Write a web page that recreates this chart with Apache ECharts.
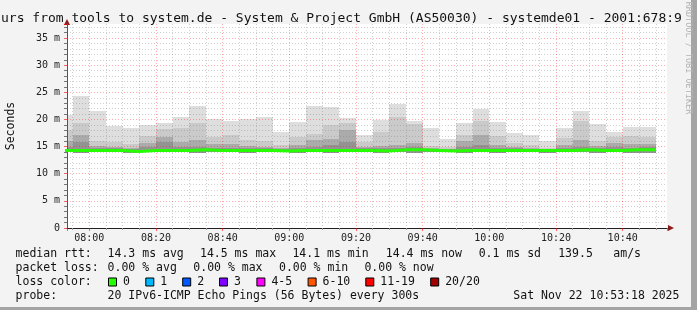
<!DOCTYPE html>
<html><head><meta charset="utf-8">
<script src="https://cdn.jsdelivr.net/npm/echarts@6/dist/echarts.min.js"></script>
<style>html,body{margin:0;padding:0;background:#f3f3f3}#c{width:697px;height:310px}</style>
</head><body><div id="c"></div>
<script>
// ---------- data ----------
const windowStart = '07:53:18';
const windowEnd = '10:53:18';
const stepMin = 5;
const slotEnd = ['07:55','08:00','08:05','08:10','08:15','08:20','08:25','08:30','08:35','08:40','08:45','08:50',
  '08:55','09:00','09:05','09:10','09:15','09:20','09:25','09:30','09:35','09:40','09:45','09:50',
  '09:55','10:00','10:05','10:10','10:15','10:20','10:25','10:30','10:35','10:40','10:45','10:50'];
const smokeMax = [20.8,24.4,21.5,18.8,18.4,19.0,19.3,20.4,22.5,20.0,19.8,20.1,
  20.5,17.7,19.6,22.5,22.3,20.2,17.1,19.9,22.9,19.7,18.4,16.4,
  19.3,21.9,19.5,17.6,17.2,16.0,18.4,21.5,19.2,17.7,18.6,18.6];
const smokeMid = [18.0,19.3,16.1,15.9,15.5,16.9,18.2,18.4,19.3,16.8,17.1,16.3,
  16.0,15.3,16.8,17.4,19.0,19.3,15.9,17.7,20.5,19.2,15.2,14.9,
  17.1,19.8,16.9,15.6,15.3,14.8,16.5,19.8,16.1,16.7,16.9,16.8];
const smokeDark = [16.0,17.1,15.2,15.0,14.8,15.7,16.7,15.9,16.3,15.4,15.5,15.2,
  15.0,14.8,15.3,16.2,16.4,18.0,15.0,15.2,15.3,15.6,14.8,14.6,
  16.0,17.1,15.3,15.0,14.8,14.5,15.3,16.3,15.2,15.6,15.4,15.5];
const smokeCore = [15.0,15.9,14.8,14.7,14.6,15.0,15.9,15.0,15.0,14.8,14.8,14.7,
  14.7,14.6,14.8,15.0,15.3,15.9,14.7,14.7,14.8,14.9,14.6,14.5,
  15.0,15.3,14.8,14.7,14.6,14.4,14.8,14.9,14.7,14.9,14.8,14.9];
const smokeMin = [14.0,13.9,14.0,14.0,13.8,14.0,14.0,14.0,13.9,14.0,14.0,13.9,
  14.0,14.0,13.9,14.0,13.9,14.0,14.0,13.9,14.0,13.8,14.0,14.0,
  13.9,14.0,13.9,14.0,14.0,13.9,14.0,14.0,13.9,14.0,13.9,13.8];
const medianRtt = [14.3,14.3,14.3,14.3,14.1,14.3,14.3,14.3,14.4,14.3,14.3,14.3,
  14.3,14.2,14.3,14.3,14.3,14.3,14.3,14.2,14.4,14.4,14.3,14.2,
  14.3,14.3,14.3,14.3,14.3,14.3,14.3,14.4,14.3,14.3,14.4,14.4];
const yTickLabels = ['0','5 m','10 m','15 m','20 m','25 m','30 m','35 m'];
const xTickLabels = ['08:00','08:20','08:40','09:00','09:20','09:40','10:00','10:20','10:40'];
const yMax = 37.6;

const titleText = 'urs from tools to system.de - System & Project GmbH (AS50030) - systemde01 - 2001:678:9';
const rttLegend = ['median rtt:','14.3 ms avg','14.5 ms max','14.1 ms min','14.4 ms now','0.1 ms sd','139.5','am/s'];
const lossLegend = ['packet loss:','0.00 % avg','0.00 % max','0.00 % min','0.00 % now'];
const lossColorLabels = ['0','1','2','3','4-5','6-10','11-19','20/20'];
const lossColorValues = ['#26ff00','#00b8ff','#0059ff','#7e00ff','#ff00ff','#ff5500','#ff0000','#a10000'];
const probeText = '20 IPv6-ICMP Echo Pings (56 Bytes) every 300s';
const dateText = 'Sat Nov 22 10:53:18 2025';

// ---------- helpers ----------
const toMin = s => { const p = s.split(':').map(Number); return p[0]*60 + p[1] + (p[2]||0)/60; };
const fmt = m => { const h = Math.floor(m/60), mm = Math.round(m - h*60); return String(h).padStart(2,'0')+':'+String(mm).padStart(2,'0'); };
const xMin = toMin(windowStart), xMax = toMin(windowEnd);
const smokeData = slotEnd.map((t,i)=>[toMin(t)-stepMin, toMin(t), smokeMin[i], smokeCore[i], smokeDark[i], smokeMid[i], smokeMax[i]]);
const medData = [[toMin(slotEnd[0])-stepMin, medianRtt[0]]].concat(slotEnd.map((t,i)=>[toMin(t), medianRtt[i]]));

const MONO = '"DejaVu Sans Mono", monospace';
const FONT = '11.5px ' + MONO;
const G = {left:67, right:30, top:24, bottom:82};

const graphics = [];
const txt = (text, x, y, extra) => graphics.push({type:'text', silent:true, style:Object.assign({text, x, y, font:FONT, fill:'#111', verticalAlign:'middle', align:'left'}, extra||{})});
// frame
graphics.push({type:'rect', shape:{x:691, y:0, width:6, height:310}, style:{fill:'#a4a4a4'}, silent:true});
graphics.push({type:'rect', shape:{x:0, y:307, width:697, height:3}, style:{fill:'#a4a4a4'}, silent:true});
// watermark
graphics.push({type:'text', x:688, y:58, rotation:-Math.PI/2, silent:true,
  style:{text:'RRDTOOL / TOBI OETIKER', x:0, y:0, align:'center', verticalAlign:'middle', font:'8.5px '+MONO, fill:'#b4b4b4'}});
// title
txt(titleText, 1, 19, {font:'13px '+MONO, fill:'#111'});
// legend rows
const rttX = [15.6,107.6,200,292.4,385.8,478.7,558.2,613.3];
rttLegend.forEach((r,i)=>txt(r, rttX[i], 254.5));
const lossX = [15.6,107.6,193.3,279,364.4];
lossLegend.forEach((r,i)=>txt(r, lossX[i], 268.5));
txt('loss color:', 15.6, 282.5);
const boxX = [108,145.3,182.2,219,256.4,307.6,365.3,430.2];
lossColorLabels.forEach((l,i)=>{
  graphics.push({type:'rect', silent:true, shape:{x:boxX[i]+0.5, y:278, width:8, height:8}, style:{fill:lossColorValues[i], stroke:'#000', lineWidth:1}});
  txt(l, boxX[i]+15, 282.5);
});
txt('probe:', 15.6, 296.5);
txt(probeText, 107.6, 296.5);
txt(dateText, 513.3, 296.5);
// axis arrows
graphics.push({type:'polygon', silent:true, shape:{points:[[64,25],[70,25],[67,19]]}, style:{fill:'#8e1b1b'}});
graphics.push({type:'polygon', silent:true, shape:{points:[[668,225],[668,231],[674,228]]}, style:{fill:'#8e1b1b'}});

const chart = echarts.init(document.getElementById('c'), null, {renderer:'canvas'});
chart.setOption({
  animation:false,
  backgroundColor:'#f3f3f3',
  grid:Object.assign({show:true, backgroundColor:'#ffffff', borderWidth:0, containLabel:false, outerBoundsMode:'none'}, G),
  xAxis:{
    type:'value', min:xMin, max:xMax, minInterval:20, maxInterval:20, z:3,
    axisLine:{show:true, lineStyle:{color:'#222', width:1}},
    axisTick:{show:true, length:3, lineStyle:{color:'rgba(255,0,0,0.6)'}},
    minorTick:{show:true, splitNumber:4, length:2, lineStyle:{color:'#999'}},
    axisLabel:{margin:5, color:'#222', fontFamily:'DejaVu Sans Mono', fontSize:10,
      formatter:v=>{ const s = fmt(v); return (Math.abs(v/20-Math.round(v/20))<1e-6 && xTickLabels.indexOf(s)>=0) ? s : ''; },
      showMinLabel:false, showMaxLabel:false},
    splitLine:{show:true, showMinLine:false, showMaxLine:false, lineStyle:{color:'rgba(255,0,0,0.32)', type:[1,2], width:1}},
    minorSplitLine:{show:true, lineStyle:{color:'rgba(120,120,120,0.35)', type:[1,2], width:1}}
  },
  yAxis:{
    type:'value', min:0, max:yMax, interval:5, z:3,
    name:'Seconds', nameLocation:'middle', nameRotate:90, nameGap:50,
    nameTextStyle:{fontFamily:'DejaVu Sans Mono', fontSize:11.5, color:'#111'},
    axisLine:{show:true, lineStyle:{color:'#555', width:1}},
    axisTick:{show:true, length:3, lineStyle:{color:'rgba(255,0,0,0.6)'}},
    minorTick:{show:true, splitNumber:5, length:3, lineStyle:{color:'#777'}},
    axisLabel:{margin:7, color:'#222', fontFamily:'DejaVu Sans Mono', fontSize:10,
      formatter:v=>{ const k = Math.round(v/5); return (Math.abs(v-k*5)<1e-6 && yTickLabels[k]!==undefined) ? yTickLabels[k] : ''; },
      showMaxLabel:false},
    splitLine:{show:true, showMinLine:false, showMaxLine:false, lineStyle:{color:'rgba(255,0,0,0.32)', type:[1,2], width:1}},
    minorSplitLine:{show:true, lineStyle:{color:'rgba(120,120,120,0.35)', type:[1,2], width:1}}
  },
  series:[
    {
      type:'custom', clip:true, z:2, silent:true,
      data:smokeData,
      encode:{x:[0,1], y:[2,3,4,5,6]},
      renderItem:(params, api)=>{
        const s = api.value(0), e = api.value(1), lo = api.value(2);
        const layers = [[api.value(6), '#dedede'], [api.value(5), '#cacaca'], [api.value(4), '#ababab'], [api.value(3), '#939393']];
        const children = layers.map(([hi, c])=>{
          const p0 = api.coord([s, hi]), p1 = api.coord([e, lo]);
          const x0 = Math.round(p0[0]), x1 = Math.round(p1[0]);
          const y0 = Math.round(p0[1]), y1 = Math.round(p1[1]);
          return {type:'rect', shape:{x:x0, y:y0, width:x1-x0, height:y1-y0}, style:{fill:c}};
        });
        return {type:'group', children};
      }
    },
    {
      type:'line', step:'start', z:5, silent:true, symbol:'none', clip:true,
      data:medData,
      lineStyle:{color:'#26ff00', width:3}
    }
  ],
  graphic:graphics
});
</script></body></html>
